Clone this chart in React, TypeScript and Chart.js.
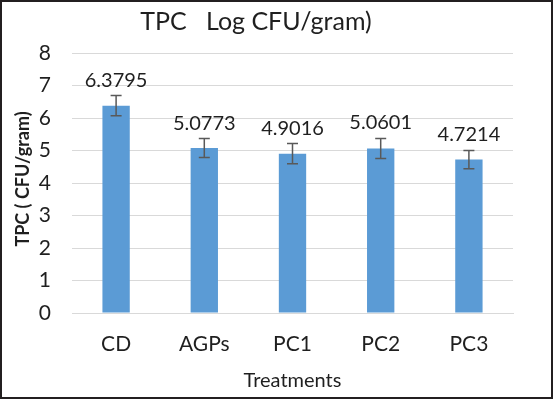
import React, { useEffect, useRef } from "react";
import { Chart, registerables } from "chart.js";

Chart.register(...registerables);

const categories = ["CD", "AGPs", "PC1", "PC2", "PC3"];
const tpcValues = [6.3795, 5.0773, 4.9016, 5.0601, 4.7214];
const tpcErrors = [0.31, 0.29, 0.31, 0.31, 0.28];
const valueLabels = ["6.3795", "5.0773", "4.9016", "5.0601", "4.7214"];

const chartTitle = "TPC   Log CFU/gram)";
const yTitle = "TPC ( CFU/gram)";
const xTitle = "Treatments";

const FONT = "Lato, 'Open Sans', sans-serif";
const TEXT = "#1f1f1f";

const decorations = {
  id: "decorations",
  afterDatasetsDraw(chart: any) {
    const { ctx, chartArea } = chart;
    const meta = chart.getDatasetMeta(0);
    const y = chart.scales.y;
    ctx.save();
    // error bars and value labels
    meta.data.forEach((bar: any, i: number) => {
      const v = tpcValues[i];
      const e = tpcErrors[i];
      const yHi = y.getPixelForValue(v + e);
      const yLo = y.getPixelForValue(v - e);
      const x = bar.x;
      ctx.strokeStyle = "#595959";
      ctx.lineWidth = 1.5;
      ctx.beginPath();
      ctx.moveTo(x, yHi);
      ctx.lineTo(x, yLo);
      ctx.moveTo(x - 5.5, yHi);
      ctx.lineTo(x + 5.5, yHi);
      ctx.moveTo(x - 5.5, yLo);
      ctx.lineTo(x + 5.5, yLo);
      ctx.stroke();
      ctx.fillStyle = TEXT;
      ctx.font = `20px ${FONT}`;
      ctx.textAlign = "center";
      ctx.textBaseline = "alphabetic";
      ctx.fillText(valueLabels[i], x, yHi - 9);
    });
    // chart title
    ctx.font = `25px ${FONT}`;
    ctx.textAlign = "center";
    ctx.textBaseline = "alphabetic";
    ctx.fillStyle = TEXT;
    ctx.fillText(chartTitle, 256, 30);
    // x axis title
    ctx.font = `20px ${FONT}`;
    ctx.fillText(xTitle, (chartArea.left + chartArea.right) / 2, 387);
    // y axis title
    ctx.save();
    ctx.translate(29, (chartArea.top + chartArea.bottom) / 2 - 4);
    ctx.rotate(-Math.PI / 2);
    ctx.font = `bold 18px ${FONT}`;
    ctx.textAlign = "center";
    ctx.fillText(yTitle, 0, 0);
    ctx.restore();
    // frame
    ctx.strokeStyle = "#231f20";
    ctx.lineWidth = 2;
    ctx.strokeRect(1, 1, chart.width - 2, chart.height - 2);
    ctx.restore();
  },
};

export default function App() {
  const canvasRef = useRef<HTMLCanvasElement>(null);

  useEffect(() => {
    document.body.style.margin = "0";
    const chart = new Chart(canvasRef.current!, {
      type: "bar",
      data: {
        labels: categories,
        datasets: [
          {
            data: tpcValues,
            backgroundColor: "#5b9bd5",
            borderWidth: 0,
            barPercentage: 0.31,
            categoryPercentage: 1,
          },
        ],
      },
      options: {
        animation: false,
        responsive: false,
        layout: { padding: { top: 53, right: 40, left: 0, bottom: 0 } },
        plugins: {
          legend: { display: false },
          title: { display: false },
          tooltip: { enabled: false },
        },
        scales: {
          x: {
            grid: { display: false, drawTicks: false },
            border: { display: true, color: "#d9d9d9", width: 1 },
            ticks: {
              color: TEXT,
              font: { family: FONT, size: 21 },
              padding: 19,
            },
            afterFit: (axis: any) => {
              axis.height = 86;
            },
          },
          y: {
            min: 0,
            max: 8,
            ticks: {
              stepSize: 1,
              color: TEXT,
              font: { family: FONT, size: 21 },
              padding: 21,
            },
            grid: { color: "#d9d9d9", lineWidth: 1, drawTicks: false },
            border: { display: false },
            afterFit: (axis: any) => {
              axis.width = 72;
            },
          },
        },
      },
      plugins: [decorations],
    });
    return () => chart.destroy();
  }, []);

  return (
    <div style={{ width: 553, height: 399, background: "#fff" }}>
      <canvas ref={canvasRef} width={553} height={399} />
    </div>
  );
}
